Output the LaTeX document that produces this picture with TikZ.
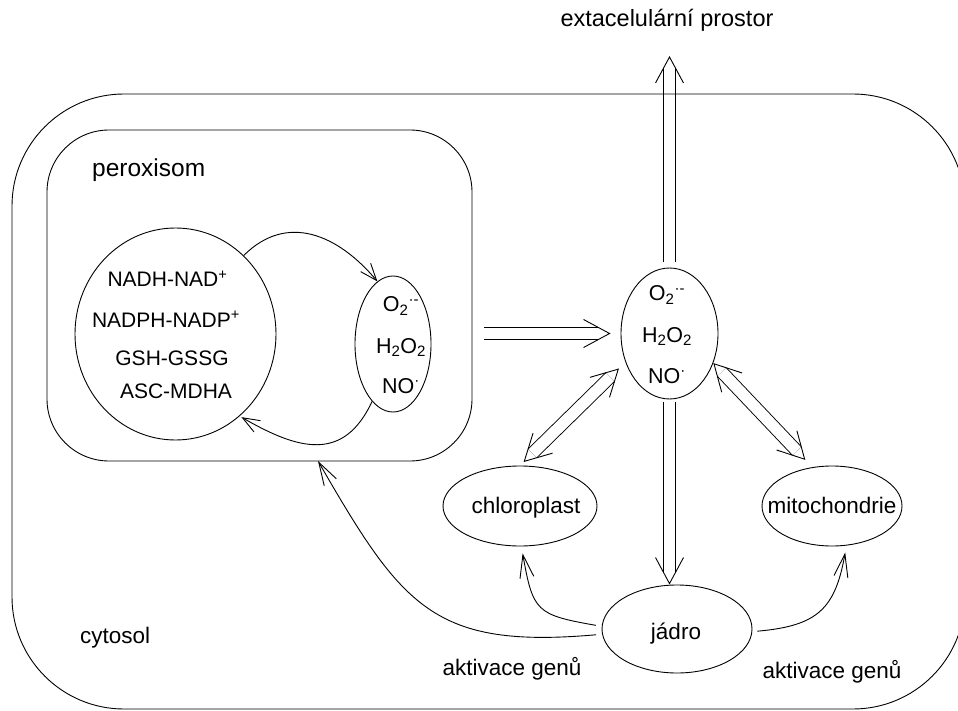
\documentclass[tikz,border=0pt]{standalone}
\usepackage{fontspec}
\setmainfont{Liberation Sans}
\usetikzlibrary{arrows.meta,calc,shapes.geometric}
% double arrow, one tip at the second end
\newcommand\dblone[4]{%
  \path (#1) -- (#2) coordinate[pos=0] (dP) coordinate[pos=1] (dQ);
  \coordinate (dA) at ($(dP)!#3!(dQ)$);
  \coordinate (dB) at ($(dQ)!#4!(dP)$);
  \draw[shaft, shorten >=11.4pt] (dA) -- (dB);
  \draw[barb] ($(dB)!29.5pt!28.3:(dA)$) -- (dB) -- ($(dB)!29.5pt!-28.3:(dA)$);
}
% double arrow, tips at both ends
\newcommand\dbltwo[4]{%
  \path (#1) -- (#2) coordinate[pos=0] (dP) coordinate[pos=1] (dQ);
  \coordinate (dA) at ($(dP)!#3!(dQ)$);
  \coordinate (dB) at ($(dQ)!#4!(dP)$);
  \draw[shaft, shorten >=11.4pt, shorten <=11.4pt] (dA) -- (dB);
  \draw[barb] ($(dB)!29.5pt!28.3:(dA)$) -- (dB) -- ($(dB)!29.5pt!-28.3:(dA)$);
  \draw[barb] ($(dA)!29.5pt!28.3:(dB)$) -- (dA) -- ($(dA)!29.5pt!-28.3:(dB)$);
}
\begin{document}
\begin{tikzpicture}[x=1pt,y=-1pt,
  lbl/.style={inner sep=0pt, font=\fontsize{22.5}{27}\selectfont},
  nadtxt/.style={inner sep=0pt, font=\fontsize{21}{25}\selectfont},
  rostxt/.style={inner sep=0pt, font=\fontsize{21.5}{26}\selectfont},
  shp/.style={draw, line width=0.9pt, ellipse, inner sep=0pt},
  boxshp/.style={draw, line width=0.9pt, rectangle, inner sep=0pt},
  arr/.style={line width=0.9pt, -{Straight Barb[length=17pt,width=13pt]}},
  arrbig/.style={line width=0.9pt, -{Straight Barb[length=23pt,width=14pt]}},
  shaft/.style={double, double distance=11.3pt, line width=0.9pt},
  barb/.style={line width=0.9pt, line join=miter}]
\fill[white] (0,0) rectangle (958,711);
\useasboundingbox (0,0) rectangle (958,711);

% shapes
\node[boxshp, rounded corners=62pt, minimum width=425pt, minimum height=331pt] (perox) at (259.5,295.5) {};
\node[shp, minimum width=201pt, minimum height=212pt] (nad) at (175.5,334) {};
\node[shp, minimum width=76pt, minimum height=136pt] (sm) at (393,344) {};
\node[shp, minimum width=97pt, minimum height=131pt] (ros) at (669.5,333.5) {};
\node[shp, minimum width=154pt, minimum height=80pt] (chl) at (520,506) {};
\node[shp, minimum width=140pt, minimum height=80pt] (mito) at (832,506) {};
\node[shp, minimum width=150pt, minimum height=88pt] (jadro) at (677,629) {};
\coordinate (ext) at (669.5,57);
\coordinate (pin) at (318,461);

% texts
\node[lbl, anchor=base, font=\fontsize{23.5}{28}\selectfont] (text) at (667,27) {extacelulární prostor};
\node[lbl, anchor=base west, font=\fontsize{24.5}{29}\selectfont] (tperox) at (92,177) {peroxisom};
\node[nadtxt, anchor=base] (tn1) at (167.5,287) {NADH-NAD\textsuperscript{+}};
\node[nadtxt, anchor=base] (tn2) at (166,327) {NADPH-NADP\textsuperscript{+}};
\node[nadtxt, anchor=base] (tn3) at (172,365) {GSH-GSSG};
\node[nadtxt, anchor=base] (tn4) at (176,398) {ASC-MDHA};
\node[rostxt, anchor=base] (ts1) at (401,312) {O\textsubscript{2}\textsuperscript{·-}};
\node[rostxt, anchor=base] (ts2) at (401,353) {H\textsubscript{2}O\textsubscript{2}};
\node[rostxt, anchor=base] (ts3) at (401,393) {NO\textsuperscript{·}};
\node[rostxt, anchor=base] (tr1) at (667,301) {O\textsubscript{2}\textsuperscript{·-}};
\node[rostxt, anchor=base] (tr2) at (667,342) {H\textsubscript{2}O\textsubscript{2}};
\node[rostxt, anchor=base] (tr3) at (667,383) {NO\textsuperscript{·}};
\node[lbl, anchor=base] (tchl) at (526,513) {chloroplast};
\node[lbl, anchor=base] (tmito) at (832,513) {mitochondrie};
\node[lbl, anchor=base] (tjadro) at (676,639) {jádro};
\node[lbl, anchor=base west] (tcyto) at (80,643) {cytosol};
\node[lbl, anchor=base] (takt1) at (512,675) {aktivace genů};
\node[lbl, anchor=base] (takt2) at (832,678) {aktivace genů};

% double arrows
\dblone{ros.north}{ext}{6pt}{0pt}
\dblone{perox.east |- ros.west}{ros.west}{12pt}{11pt}
\dblone{ros.south}{ros.south |- jadro.north}{3pt}{1pt}
\dbltwo{ros.-147}{chl.north}{10pt}{6pt}
\dbltwo{ros.-34}{mito.117}{1pt}{11pt}

% curved arrows
\draw[arr] (nad.49) to[out=45,in=130,looseness=1.15] (sm.104);
\draw[arr, shorten >=2pt] (sm.-110) to[out=-115,in=-30,looseness=1.3] (nad.-52);
\draw[arrbig, shorten <=6pt] (jadro.184) to[out=185,in=-60,looseness=1.3] (pin);
\draw[arrbig, shorten <=6pt, shorten >=7pt] (jadro.178) to[out=170,in=-80,looseness=1.5] (chl.-88);
\draw[arrbig, shorten <=5pt, shorten >=7pt] (jadro.-2) to[out=5,in=-100,looseness=1.3] (mito.-70);

% cytosol outline
\begin{scope}
\clip (0,0) rectangle (958,711);
\draw[line width=0.9pt, rounded corners=112pt] (12,94) rectangle (965,709);
\end{scope}
\end{tikzpicture}
\end{document}
